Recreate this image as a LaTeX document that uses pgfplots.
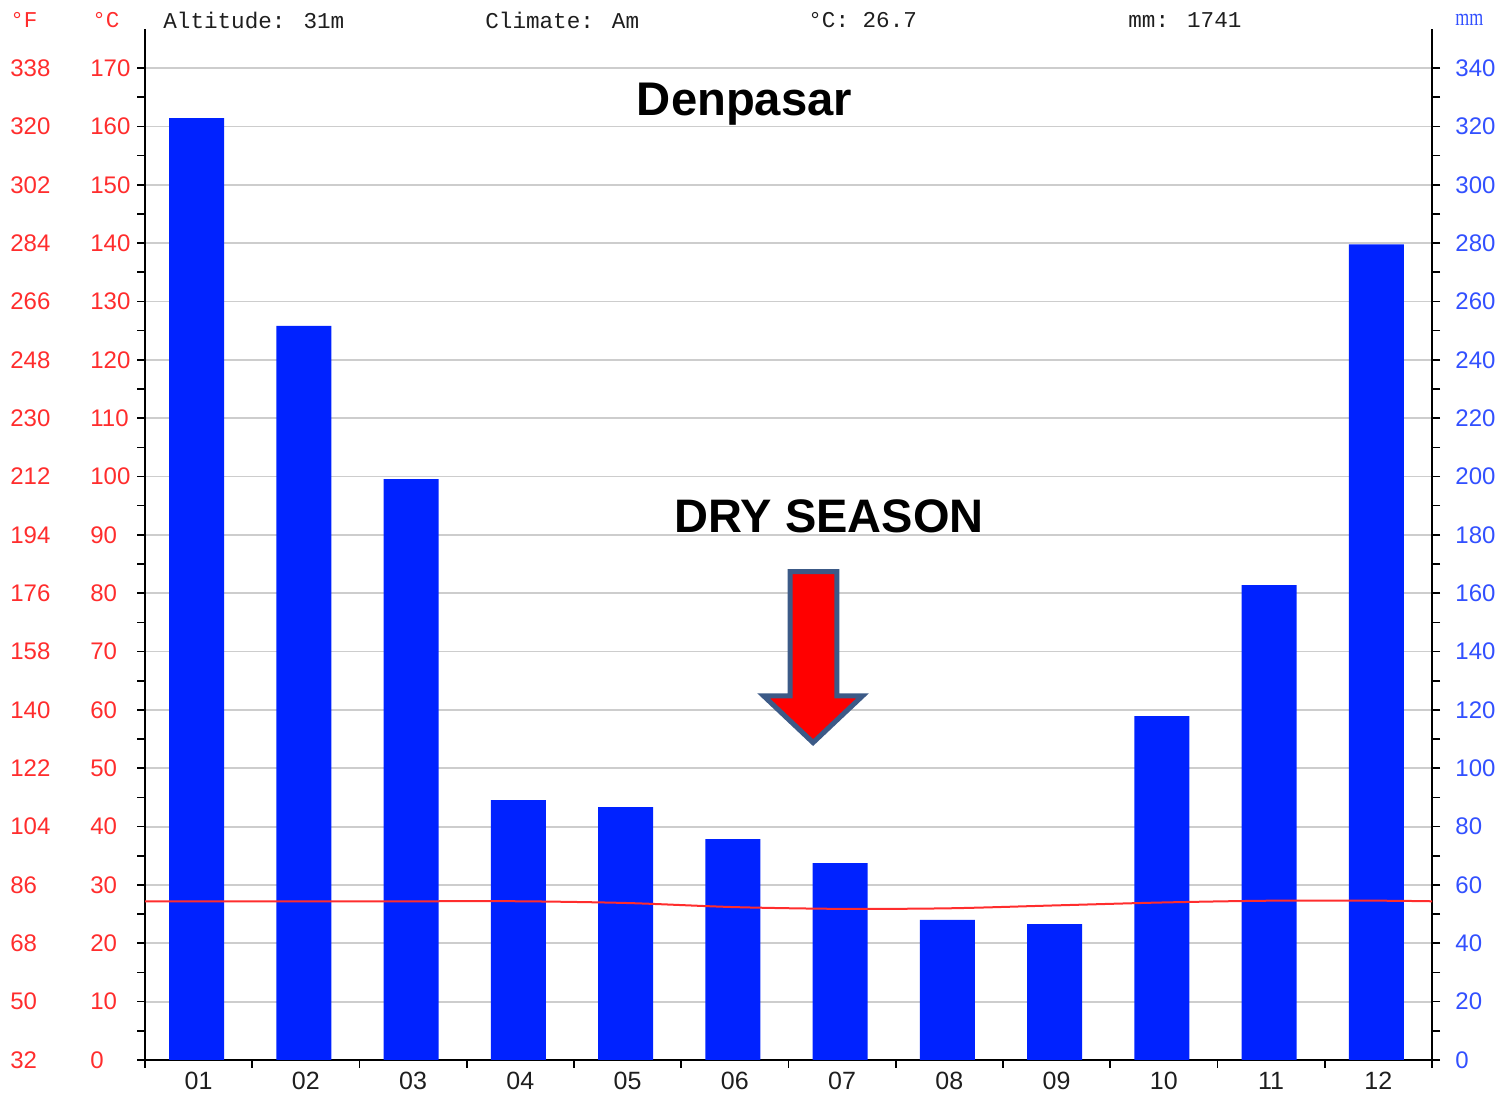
\documentclass[border=0pt]{standalone}
\usepackage{fontspec}
\setmainfont{Liberation Sans}
\newfontfamily\monofont{Liberation Mono}
\newfontfamily\seriffont{Liberation Serif}
\usepackage{pgfplots}
\pgfplotsset{compat=1.18}
\definecolor{barblue}{RGB}{0,34,255}
\definecolor{tred}{RGB}{255,45,45}
\definecolor{tblue}{RGB}{50,80,255}
\definecolor{gridgray}{RGB}{205,205,205}
\definecolor{arrowedge}{RGB}{60,90,135}
\definecolor{hdr}{RGB}{30,30,30}
\pgfplotsset{base/.style={scale only axis, width=643.5pt, height=515.5pt,
  xmin=0.5, xmax=12.5, at={(0,0)}, anchor=south west,
  /pgf/number format/assume math mode=true}}
\begin{document}
\begin{tikzpicture}
% Celsius axis with grid
\begin{axis}[base, ymin=0, ymax=176.7,
  axis x line*=bottom, axis y line*=left,
  axis line style={black, line width=1pt},
  xtick={1,...,12}, xticklabels={01,02,03,04,05,06,07,08,09,10,11,12},
  minor xtick={0.5,1.5,...,12.5},
  major x tick style={draw=none},
  ytick={0,10,...,170}, minor y tick num=1,
  tick align=outside, major tick length=4pt, minor tick length=4pt,
  tick style={black, line width=0.8pt},
  ymajorgrids, major grid style={gridgray, line width=0.9pt},
  ytick pos=left, yticklabel pos=left,
  yticklabel style={tred, anchor=west, inner sep=0pt, xshift=-23.5pt, font=\fontsize{12}{14}\selectfont},
  xticklabel style={hdr, anchor=north, inner sep=0pt, yshift=-2pt, font=\fontsize{12.5}{14}\selectfont},
]
\end{axis}
% Fahrenheit labels
\begin{axis}[base, ymin=0, ymax=176.7,
  axis x line=none, axis y line*=left, axis line style={draw=none},
  ytick={0,10,...,170},
  yticklabels={32,50,68,86,104,122,140,158,176,194,212,230,248,266,284,302,320,338},
  tick align=outside, major tick length=4pt, tick style={draw=none},
  ytick pos=left, yticklabel pos=left,
  yticklabel style={tred, anchor=west, inner sep=0pt, xshift=-63.5pt, font=\fontsize{12}{14}\selectfont},
]
\end{axis}
% Precipitation bars
\begin{axis}[base, ymin=0, ymax=353.4,
  axis x line=none, axis y line*=right,
  axis line style={black, line width=1pt},
  ytick={0,20,...,340}, minor y tick num=1,
  tick align=outside, major tick length=4pt, minor tick length=4pt,
  tick style={black, line width=0.8pt},
  ytick pos=right, yticklabel pos=right,
  yticklabel style={tblue, anchor=west, inner sep=0pt, xshift=7.5pt, font=\fontsize{12}{14}\selectfont},
]
\addplot[ybar, bar width=0.513, bar shift=-1pt, fill=barblue, draw=none] coordinates {
 (1,322.8) (2,251.6) (3,199.1) (4,89.1) (5,86.7) (6,75.7)
 (7,67.5) (8,48.0) (9,46.6) (10,117.9) (11,162.8) (12,279.6)};
\end{axis}
% Temperature line and annotations
\begin{axis}[base, ymin=0, ymax=176.7, hide axis, clip=false]
\addplot[tred, line width=1pt, smooth, tension=0.5] coordinates {
 (0.5,27.2) (1,27.2) (2,27.2) (3,27.2) (4,27.2) (5,26.9) (6,26.2)
 (7,25.9) (8,26.0) (9,26.5) (10,27.0) (11,27.3) (12,27.3) (12.5,27.2)};
\node[font=\bfseries\fontsize{23.6}{26}\selectfont] at (axis cs:6.09,163.8) {Denpasar};
\node[font=\bfseries\fontsize{23.5}{26}\selectfont] at (axis cs:6.878,93.1) {DRY SEASON};
\draw[arrowedge, fill=red, line width=2.5pt, line join=miter]
 (axis cs:6.515,83.7) -- (axis cs:6.952,83.7) -- (axis cs:6.952,62.4)
 -- (axis cs:7.19,62.4) -- (axis cs:6.729,54.4) -- (axis cs:6.268,62.4)
 -- (axis cs:6.515,62.4) -- cycle;
\end{axis}
% Header
\node[anchor=west, tred, inner sep=0pt, font=\monofont\fontsize{11.3}{13}\selectfont] at (-67.5pt,520pt) {°F};
\node[anchor=west, tred, inner sep=0pt, font=\monofont\fontsize{11.3}{13}\selectfont] at (-26.5pt,520pt) {°C};
\node[anchor=west, hdr, inner sep=0pt, font=\monofont\fontsize{11.3}{13}\selectfont] at (9pt,520pt) {Altitude: 31m};
\node[anchor=west, hdr, inner sep=0pt, font=\monofont\fontsize{11.3}{13}\selectfont] at (170pt,520pt) {Climate: Am};
\node[anchor=west, hdr, inner sep=0pt, font=\monofont\fontsize{11.3}{13}\selectfont] at (331.5pt,520pt) {°C: 26.7};
\node[anchor=west, hdr, inner sep=0pt, font=\monofont\fontsize{11.3}{13}\selectfont] at (491.5pt,520pt) {mm: 1741};
\node[anchor=west, tblue, inner sep=0pt, xscale=0.75, font=\seriffont\fontsize{12}{14}\selectfont] at (655pt,520pt) {mm};
\pgfresetboundingbox
\path (-72.5pt,-17.5pt) rectangle (678.5pt,530pt);
\end{tikzpicture}
\end{document}
